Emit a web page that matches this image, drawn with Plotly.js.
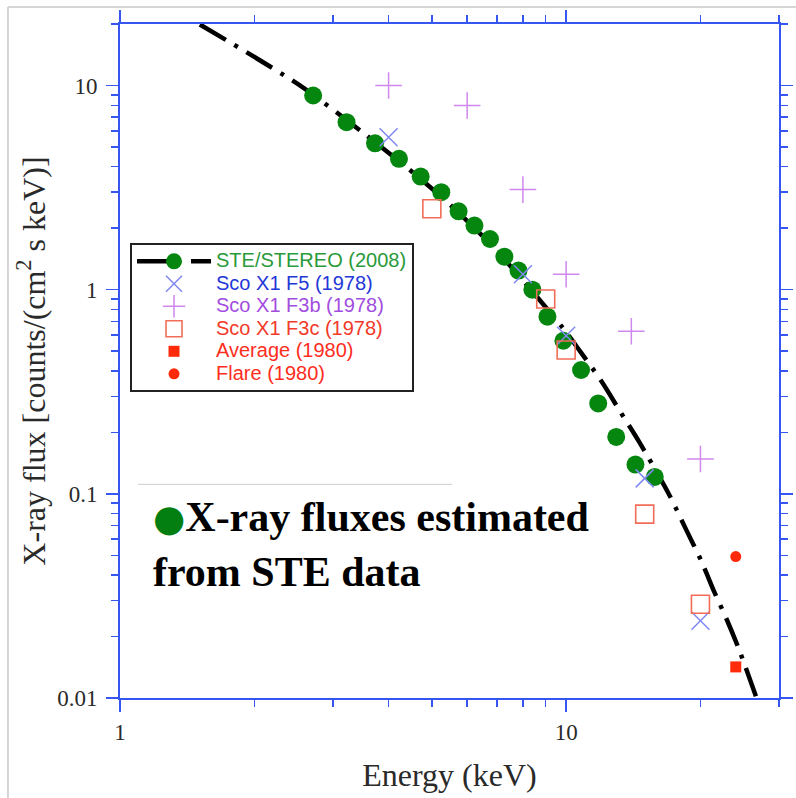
<!DOCTYPE html>
<html>
<head>
<meta charset="utf-8">
<script src="https://cdn.plot.ly/plotly-3.0.1.min.js"></script>
<style>html,body{margin:0;padding:0;background:#fff;}#chart{width:796px;height:798px;}</style>
</head>
<body>
<div id="chart"></div>
<script>
// ---- data ----
const steEnergy = [2.71, 3.22, 3.73, 4.22, 4.72, 5.25, 5.74, 6.23, 6.75, 7.27, 7.82, 8.40, 9.08, 9.86, 10.8, 11.8, 12.95, 14.3, 15.8];
const steFlux   = [8.93, 6.61, 5.21, 4.37, 3.58, 3.00, 2.42, 2.06, 1.77, 1.45, 1.24, 1.00, 0.737, 0.562, 0.404, 0.277, 0.190, 0.139, 0.121];

const f5Energy = [4, 8, 10, 15, 20];
const f5Flux   = [5.58, 1.19, 0.595, 0.119, 0.0239];

const f3bEnergy = [4, 6, 8, 10, 14, 20];
const f3bFlux   = [10.0, 7.98, 3.09, 1.19, 0.625, 0.148];

const f3cEnergy = [5, 9, 10, 15, 20];
const f3cFlux   = [2.49, 0.90, 0.506, 0.0795, 0.0288];

const avgEnergy = [24];
const avgFlux   = [0.0142];

const flareEnergy = [24];
const flareFlux   = [0.0493];

const modelEnergy = [1.51, 2.53, 3.45, 4.38, 5.42, 6.87, 9.75, 10.74, 12.03, 13.23, 14.59, 16.94, 18.59, 20.09, 21.48, 22.97, 24.43, 26.67];
const modelFlux   = [19.9, 10.0, 6.03, 3.99, 2.68, 1.614, 0.664, 0.500, 0.353, 0.252, 0.179, 0.101, 0.0666, 0.0469, 0.0331, 0.0239, 0.0172, 0.0101];

const seriesNames = ['STE/STEREO (2008)', 'Sco X1 F5 (1978)', 'Sco X1 F3b (1978)', 'Sco X1 F3c (1978)', 'Average (1980)', 'Flare (1980)'];
const xTitle = 'Energy (keV)';
const yTitle = 'X-ray flux [counts/(cm<sup>2</sup> s keV)]';
const noteLine1 = 'X-ray fluxes estimated';
const noteLine2 = 'from STE data';

// ---- styling ----
const axisBlue = '#3556f0';
const serif = 'Liberation Serif, Times New Roman, serif';
const sans = 'Liberation Sans, Arial, sans-serif';
const dashPattern = '30px,10px,4px,10px';

function lbl(name, color) {
  return '<span style="color:' + color + ';font-size:20px">' + name + '</span>';
}

// STE points: interleave with nulls so the legend shows line+marker but no line joins the points
const steX = [], steY = [];
steEnergy.forEach((e, i) => { steX.push(e, null); steY.push(steFlux[i], null); });

const traces = [
  {
    x: modelEnergy, y: modelFlux, type: 'scatter', mode: 'lines',
    line: {color: '#000', width: 4.5, dash: dashPattern, shape: 'spline', smoothing: 0.8},
    showlegend: false, hoverinfo: 'skip'
  },
  {
    x: steX, y: steY, type: 'scatter', mode: 'lines+markers', connectgaps: false,
    name: lbl(seriesNames[0], '#2a9a3a'),
    line: {color: '#000', width: 4.5, dash: dashPattern},
    marker: {color: '#04860f', size: 18, symbol: 'circle'}
  },
  {
    x: f5Energy, y: f5Flux, type: 'scatter', mode: 'markers',
    name: lbl(seriesNames[1], '#2438d8'),
    marker: {symbol: 'x-thin-open', size: 18, color: '#8088f2', line: {color: '#8088f2', width: 1.5}}
  },
  {
    x: f3bEnergy, y: f3bFlux, type: 'scatter', mode: 'markers',
    name: lbl(seriesNames[2], '#a24de0'),
    marker: {symbol: 'cross-thin-open', size: 19, color: '#cf88ee', line: {color: '#cf88ee', width: 1.5}}
  },
  {
    x: f3cEnergy, y: f3cFlux, type: 'scatter', mode: 'markers',
    name: lbl(seriesNames[3], '#f23a2a'),
    marker: {symbol: 'square-open', size: 18, color: '#f26d58', line: {color: '#f26d58', width: 1.6}}
  },
  {
    x: avgEnergy, y: avgFlux, type: 'scatter', mode: 'markers',
    name: lbl(seriesNames[4], '#ff2d1e'),
    marker: {symbol: 'square', size: 11, color: '#ff2a0a'}
  },
  {
    x: flareEnergy, y: flareFlux, type: 'scatter', mode: 'markers',
    name: lbl(seriesNames[5], '#ff2d1e'),
    marker: {symbol: 'circle', size: 11, color: '#ff2a0a'}
  }
];

const axisCommon = {
  type: 'log',
  showline: true, linecolor: axisBlue, linewidth: 2,
  mirror: 'allticks',
  ticks: 'outside', ticklen: 12, tickwidth: 1.5, tickcolor: axisBlue,
  dtick: 1,
  showgrid: false, zeroline: false,
  tickfont: {family: serif, size: 23, color: '#2a2a2a'},
  minor: {ticks: 'outside', ticklen: 7, tickwidth: 1.5, tickcolor: axisBlue, dtick: 'D1', showgrid: false}
};

const layout = {
  width: 796, height: 798,
  margin: {l: 120, r: 17, t: 24, b: 100},
  paper_bgcolor: '#fff', plot_bgcolor: '#fff',
  showlegend: true,
  xaxis: Object.assign({}, axisCommon, {
    range: [0, Math.log10(30)],
    title: {text: xTitle, font: {family: serif, size: 32, color: '#2a2a2a'}, standoff: 20}
  }),
  yaxis: Object.assign({}, axisCommon, {
    range: [-2, Math.log10(20)],
    ticklabelstandoff: 4,
    title: {text: yTitle, font: {family: serif, size: 32, color: '#2a2a2a'}, standoff: 2}
  }),
  legend: {
    x: 0.0152, y: 0.675, xanchor: 'left', yanchor: 'top',
    bgcolor: '#fff', bordercolor: '#222', borderwidth: 2,
    font: {family: sans, size: 15, color: '#000'},
    itemwidth: 74, tracegroupgap: 0
  },
  shapes: [
    {type: 'line', xref: 'paper', yref: 'paper', x0: -0.17, x1: 1.03, y0: 1.0252, y1: 1.0252, line: {color: '#c8c8c8', width: 1.5}},
    {type: 'line', xref: 'paper', yref: 'paper', x0: -0.17, x1: -0.17, y0: 1.0252, y1: -0.16, line: {color: '#c8c8c8', width: 1.5}},
    {type: 'line', xref: 'paper', yref: 'paper', x0: 0.0273, x1: 0.5038, y0: 0.317, y1: 0.317, line: {color: '#cccccc', width: 1}}
  ],
  annotations: [
    {
      xref: 'paper', yref: 'paper', x: 0.047, y: 0.305, xanchor: 'left', yanchor: 'top',
      align: 'left', showarrow: false,
      text: '<span style="color:#037f12;font-family:DejaVu Sans;font-size:37px">●</span><b>' + noteLine1 + '</b><br><b>' + noteLine2 + '</b>',
      font: {family: serif, size: 42, color: '#000'}
    }
  ]
};

Plotly.newPlot('chart', traces, layout, {displayModeBar: false, staticPlot: true});
</script>
</body>
</html>
